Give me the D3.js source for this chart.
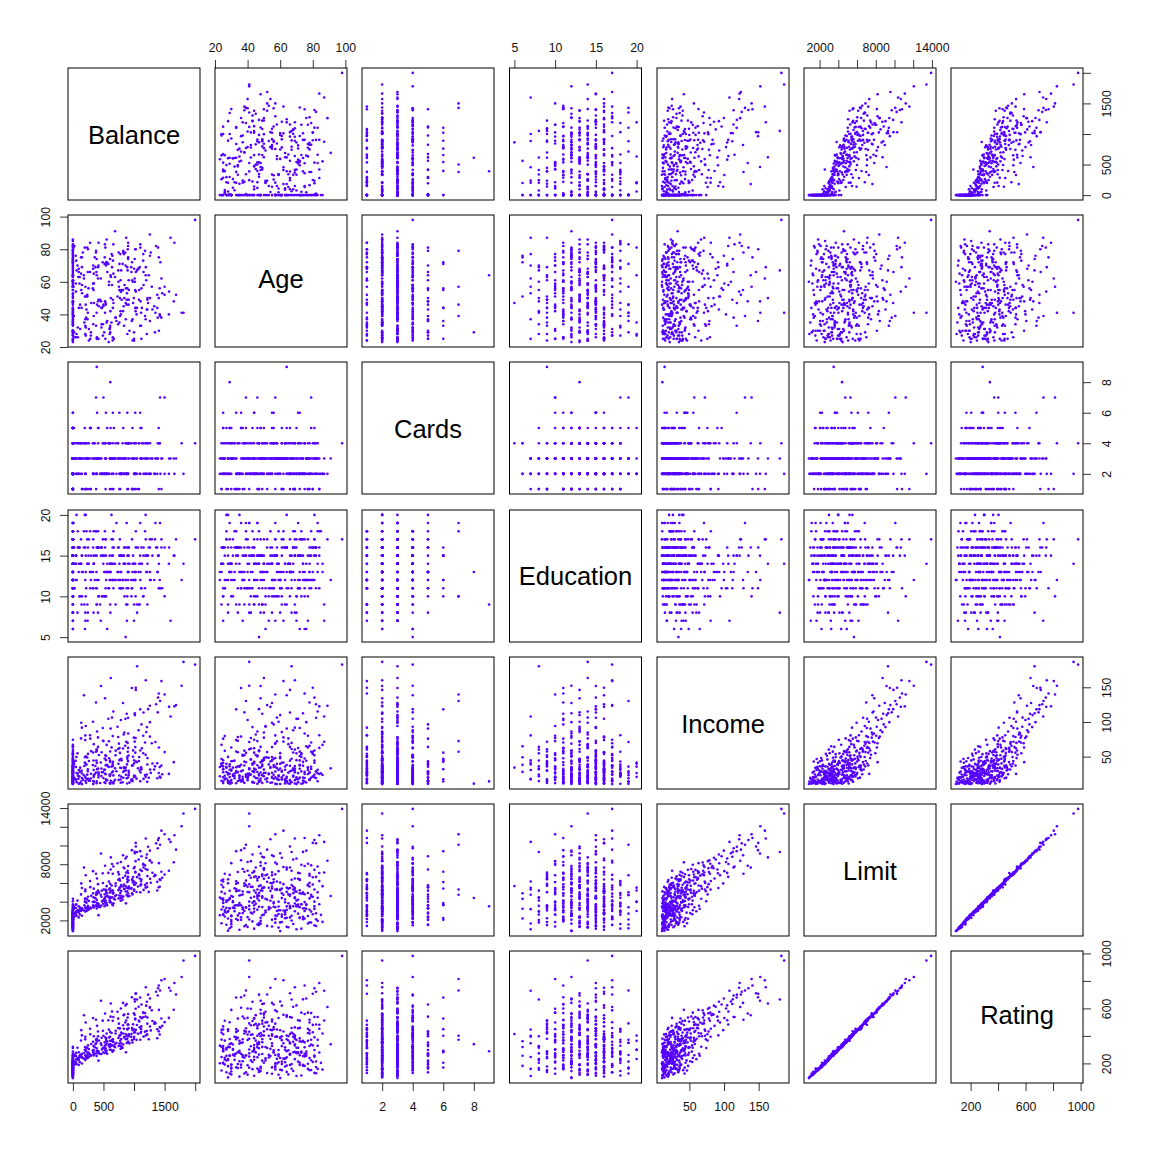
<!DOCTYPE html>
<html><head><meta charset="utf-8">
<script src="https://cdn.jsdelivr.net/npm/d3@7"></script>
<style>html,body{margin:0;background:#fff}svg{display:block}</style>
</head><body><svg id="c" width="1154" height="1154"></svg>
<script>
const variableNames = ["Balance","Age","Cards","Education","Income","Limit","Rating"];

const incomeValues = [
14.891,106.025,104.593,148.924,55.882,80.18,20.996,71.408,15.125,71.061,
63.095,15.045,80.616,43.682,19.144,20.089,53.598,36.496,49.57,42.079,
17.7,37.348,20.103,64.027,10.742,14.09,42.471,32.793,186.634,26.813,
34.142,28.941,134.181,31.367,20.15,23.35,62.413,30.007,11.795,13.648,
34.95,113.659,44.158,36.929,31.861,77.38,19.531,44.646,44.522,43.479,
36.362,39.705,44.205,16.304,15.333,32.916,57.1,76.273,10.354,51.872,
35.51,21.238,30.682,14.132,32.164,12.0,113.829,11.187,27.847,49.502,
24.889,58.781,22.939,23.989,
16.1,33.0,30.5,27.4,62.6,11.8,29.6,27.6,26.4,57.2,
123.3,18.1,23.8,10.7,23.3,21.5,34.7,44.5,54.7,36.4,
30.6,18.9,57.3,84.8,41.5,12.2,52.3,28.6,18.0,93.0,
39.1,20.4,68.7,25.6,15.4,78.2,24.1,13.8,47.7,33.2,
19.2,102.9,35.7,27.7,16.8,55.4,12.6,44.9,22.3,72.1,
38.4,17.2,64.9,29.3,91.2,21.1,48.8,14.7,31.5,109.9,
25.0,51.2,18.3,36.7,75.9,13.0,42.9,26.1,60.5,11.4,
34.1,19.9,86.3,28.4,15.9,53.9,40.2,23.1,12.9,69.8,
31.0,17.6,45.3,24.8,98.8,20.7,58.3,14.4,37.9,27.1,
76.8,16.5,49.4,22.8,33.8,11.2,65.7,29.8,43.3,18.7,
52.7,25.9,13.4,39.8,83.4,21.9,60.1,35.0,16.0,47.0,
118.5,28.9,12.4,56.4,32.5,19.5,74.3,24.3,41.1,15.1,
37.2,66.9,26.6,10.8,50.3,22.1,90.4,35.9,17.9,44.0,
29.0,13.2,61.8,20.1,38.8,104.5,25.3,48.1,16.7,31.7,
79.6,14.9,42.4,23.6,55.0,19.0,34.6,127.4,11.9,27.3,
46.6,63.3,21.4,38.0,15.6,71.7,30.1,17.3,94.2,26.9,
40.7,13.6,54.2,23.0,36.1,19.7,59.0,28.2,12.1,88.0,
33.5,18.5,47.3,25.5,68.0,14.2,31.3,80.9,21.6,39.5,
16.4,52.0,27.9,112.6,43.7,11.0,24.5,35.4,62.0,20.3,
17.0,49.9,30.9,73.8,13.9,41.9,22.6,57.9,28.0,36.0,
96.5,15.3,45.9,26.2,19.3,33.9,10.4,67.1,38.6,24.0,
54.9,16.2,29.5,82.0,12.7,43.0,21.0,35.3,60.9,18.2,
48.3,26.5,72.8,13.3,37.5,100.4,23.4,31.9,17.4,51.0,
40.0,14.5,64.0,28.5,20.5,77.7,34.3,11.5,44.3,25.7,
57.0,16.6,32.3,91.8,22.4,47.9,13.1,38.3,69.2,27.5,
182.7,152.3,180.4,163.3,160.2,158.9,149.3,135.1,130.2,124.3,
121.8,107.8,115.1,125.5,141.0,146.2,151.9,138.5,128.0,139.7,
122.5,25.1,42.0,40.4,21.2,34.9,56.5,14.3,11.0,72.4,
118.2,55.7,45.0,33.1,
10.6,14.0,12.3,19.6,24.2,16.9,29.9,11.6,37.0,21.8,46.0,31.1,
15.8,17.1,24.6,12.5,28.7,33.4,39.2,46.9,51.6,58.6,
63.7,70.4,78.9,85.4,92.6,99.7,106.3,111.9,32.7,26.3,
41.3,18.8,23.2,35.6,20.8,27.0,49.0,38.1,17.5,44.8
];

const limitValues = [
3606,6645,7075,9504,4897,8047,3388,7114,3300,6819,
8117,1311,5308,6922,3291,2525,3714,4378,6384,6626,
2860,6378,2631,5179,1757,4323,3625,4534,13414,5611,
5666,2733,7838,1829,2646,2558,6457,6481,3899,3461,
3327,7659,4763,6257,6375,7569,5043,4431,2252,4569,
5183,3969,5441,5466,1499,1786,4742,4779,3480,5294,
5198,3089,1671,2998,2937,4160,9704,5099,5619,6819,
3954,7402,4923,4523,
5390,3180,3501,3449,7056,1300,2529,2531,5533,3411,
8376,3461,3821,1568,5443,5829,5835,3500,4116,3613,
4000,3299,5908,7576,4742,3015,4964,1402,2415,8101,
3274,1300,6921,3180,2120,7167,4410,1160,5308,5620,
3780,8240,2230,4115,3145,6250,2080,5070,2760,6150,
3890,4900,3240,5360,7040,1620,4220,2940,6710,9170,
3730,2780,2280,4620,5550,3510,6000,1950,5020,2640,
3360,4870,6480,2150,3620,4530,5810,3050,1890,7310,
4290,1060,5520,2470,5950,3390,4880,5010,3120,5740,
8330,2690,3720,4660,1540,3830,6780,3260,2040,6120,
7490,2590,1720,5230,7810,3580,2980,4450,2350,6090,
9860,3440,4100,5170,2310,4560,4050,5960,1830,3170,
7200,5660,2860,1120,4340,3950,7430,2610,5260,3640,
4720,2490,6560,1480,5480,8620,3310,2170,4240,3550,
6990,1950,4990,5770,3080,2750,6180,8960,3420,4480,
1690,5730,2920,3960,2210,7700,5090,3700,6830,1260,
4170,5580,2660,3490,2040,6310,6640,2400,1580,8510,
5150,3340,4790,4010,5390,2060,6440,6200,2550,3010,
4350,5690,3150,9320,4080,2320,6550,1770,7280,3600,
2900,6040,4410,5120,1410,3370,5300,4620,2200,6860,
8850,3930,5600,2720,1000,4920,2500,4310,6730,3230,
7950,2440,5410,7650,3710,1370,4640,2850,6350,5030,
3430,6020,6000,2270,4540,7260,1840,3860,3060,5220,
7090,4760,3570,2110,5170,5870,1650,3270,4460,2980,
6610,1230,5860,5460,3100,7400,4200,2340,8190,4020,
13913,12066,9310,8732,10748,11589,10278,10578,10088,9560,
10673,10384,7760,10230,10800,9890,9150,7640,6982,11200,
11100,7300,8200,5200,5600,6400,6900,3500,4400,5300,
9400,7200,5400,4600,
855,905,1120,1340,1500,1790,1980,2150,2380,2620,2830,3020,
3860,4380,4120,4600,4860,5350,5050,5780,6260,5970,
7130,7880,8430,8700,9040,9450,8030,8800,3810,3000,
4000,4700,2100,3400,5500,3620,4300,4900,3200,6150
];

const ratingValues = [
283,483,514,681,357,569,259,512,266,491,
589,138,394,511,269,200,286,339,448,479,
235,458,213,398,156,326,289,333,949,411,
413,210,563,162,199,220,455,462,300,264,
253,538,351,445,469,564,376,320,205,354,
376,301,394,413,138,154,372,367,281,390,
364,254,160,251,223,320,694,380,418,505,
318,538,355,338,
393,250,281,288,481,119,192,195,433,259,
610,279,281,162,407,427,452,257,314,278,
298,255,429,555,347,242,366,128,192,576,
254,118,489,243,183,526,325,126,388,416,
280,599,178,312,239,456,171,371,216,446,
287,369,256,389,511,145,312,224,488,650,
279,216,175,345,412,276,444,160,379,209,
262,359,473,171,270,331,425,235,158,533,
318,108,403,198,442,257,366,372,244,421,
597,208,278,344,136,296,497,248,169,448,
541,204,150,385,559,268,231,329,187,449,
700,263,306,387,189,338,312,436,151,246,
527,417,222,112,318,299,540,207,395,272,
350,195,478,131,401,622,259,182,317,273,
510,165,365,431,239,214,450,640,268,331,
148,421,227,295,180,553,376,281,497,120,
309,411,210,266,166,459,484,196,141,612,
378,255,353,301,397,170,468,452,201,233,
327,417,245,666,304,188,473,152,529,274,
228,441,328,375,130,259,393,341,182,499,
628,299,408,213,104,364,199,321,489,249,
569,190,398,551,286,127,346,221,458,371,
262,440,437,184,335,530,155,291,237,382,
508,352,270,174,377,432,144,254,327,226,
480,117,430,404,241,534,313,191,586,302,
982,828,665,636,754,805,707,747,730,701,
750,728,538,721,767,710,656,550,518,814,
785,531,590,383,410,465,500,288,340,401,
679,526,401,339,
93,98,110,125,135,150,161,172,189,205,222,236,
292,326,310,346,358,394,373,424,455,438,
519,566,605,620,648,672,578,632,284,232,
297,348,169,261,403,272,319,361,247,447
];

const cardsValues = [
2,3,4,3,2,4,2,2,5,3,
4,3,1,1,2,3,3,3,1,2,
4,1,3,5,3,5,6,2,2,4,
4,5,2,4,2,3,2,2,4,4,
3,2,2,1,3,3,2,2,6,4,
3,2,1,4,2,2,7,4,2,4,
2,3,2,4,2,4,4,4,2,4,
4,2,1,4,
4,2,3,3,1,3,1,1,5,3,
2,3,4,5,4,4,3,3,2,4,
2,4,3,2,3,1,3,2,3,4,
5,2,3,3,2,4,4,3,2,1,
2,3,3,4,1,2,5,3,2,4,
3,1,2,2,2,3,4,3,2,3,
3,1,3,2,5,2,4,2,3,4,
3,2,2,4,5,3,1,3,2,4,
2,3,2,1,3,4,3,3,2,5,
2,3,4,1,2,2,3,3,5,2,
4,2,4,3,2,3,1,2,3,6,
4,3,2,2,4,5,3,3,1,4,
3,2,3,2,1,3,5,2,4,3,
2,3,3,4,2,2,5,3,3,1,
4,2,3,2,3,4,3,3,2,1,
3,3,2,4,3,2,3,6,3,2,
3,4,1,3,2,2,3,5,3,4,
2,1,2,3,3,6,4,1,3,2,
3,4,2,2,3,3,3,2,4,5,
2,3,4,2,1,3,2,3,4,2,
5,3,2,3,2,1,4,2,3,3,
3,2,4,2,3,3,2,5,3,3,
2,2,4,3,3,2,2,6,3,2,
3,5,1,2,4,3,3,2,3,4,
2,3,3,1,2,3,4,5,3,2,
4,4,3,3,2,1,1,3,7,3,
3,3,3,3,1,2,2,4,2,7,
2,2,3,3,4,4,2,9,8,7,
6,6,6,3,
3,2,3,2,5,4,2,1,3,3,2,4,
2,3,1,3,2,3,3,2,4,3,
2,3,2,4,2,3,3,2,4,2,
5,2,3,2,3,1,4,2,3,2
];

const ageValues = [
34,82,71,36,68,77,37,87,66,41,
30,64,57,49,75,57,73,69,28,44,
63,72,61,48,57,25,44,44,41,55,
47,43,48,30,25,49,71,69,25,47,
54,66,66,24,25,50,64,49,72,49,
49,27,32,66,47,60,79,65,70,81,
35,59,77,75,79,28,38,69,78,55,
75,81,47,31,
69,41,68,25,84,30,30,34,50,72,
89,56,56,46,49,80,77,81,70,35,
59,32,33,50,62,38,45,82,26,51,
29,40,57,53,74,34,42,29,60,68,
45,40,63,27,78,39,55,70,35,58,
43,61,76,33,72,68,52,28,45,60,
84,37,48,66,25,71,54,83,41,63,
31,74,46,57,36,80,24,62,43,67,
29,70,50,77,55,39,26,83,64,48,
42,59,73,35,27,65,78,44,30,52,
37,85,47,60,75,32,69,23,40,56,
47,66,54,34,72,79,44,28,61,24,
38,86,51,73,46,31,64,25,58,76,
36,67,42,81,53,70,29,57,63,41,
26,48,74,39,60,82,33,55,49,69,
24,77,44,56,28,62,37,71,51,65,
25,43,80,59,34,72,47,61,30,68,
54,27,75,41,65,36,50,84,23,58,
78,38,46,74,31,66,53,79,44,70,
26,60,83,33,52,39,68,47,75,29,
56,63,42,71,35,77,58,24,49,81,
73,30,61,45,76,38,55,27,67,40,
53,78,34,64,46,59,86,25,51,72,
43,37,66,82,29,62,48,74,55,32,
80,59,41,69,26,50,71,36,57,44,
98,41,67,50,69,62,80,81,39,52,
54,87,83,82,75,66,48,64,78,57,
84,40,48,44,40,56,52,64,29,46,
33,44,55,91,
60,28,44,55,39,78,67,33,74,50,42,63,
35,61,47,30,73,58,24,67,46,38,
55,79,36,61,43,76,58,49,69,28,
81,46,41,57,64,33,51,72,37,25
];

const educationValues = [
11,15,11,11,16,10,12,9,13,19,
14,16,7,9,13,15,17,15,9,9,
16,17,10,8,15,16,12,16,14,16,
5,16,13,10,14,12,11,9,10,14,
14,15,13,14,16,12,16,15,15,13,
15,20,12,10,9,8,18,14,17,17,
20,10,7,17,15,14,13,16,15,14,
12,12,18,15,
12,15,16,16,11,14,12,15,15,11,
17,15,12,19,13,12,15,16,8,9,
14,13,9,14,7,11,10,16,11,13,
14,13,12,10,17,16,8,19,11,16,
14,11,9,17,13,15,12,10,16,13,
18,11,6,16,15,18,14,8,12,13,
16,12,17,14,11,15,18,13,9,16,
10,14,12,15,13,16,9,18,11,15,
13,7,17,12,14,15,11,19,16,13,
10,12,15,14,17,11,14,9,16,13,
15,18,14,12,12,16,8,13,17,10,
15,14,11,16,13,12,17,15,9,14,
16,13,11,18,15,12,13,10,16,14,
19,12,11,15,7,16,13,17,14,8,
12,15,13,18,11,16,14,12,9,15,
13,17,14,11,16,13,12,15,10,14,
16,13,12,18,8,11,15,17,14,13,
15,12,10,16,14,11,13,18,12,15,
16,9,14,12,17,13,11,16,14,10,
15,12,18,16,13,11,14,15,6,17,
11,14,13,19,16,12,15,14,9,17,
10,13,16,14,12,15,11,18,13,16,
14,12,15,11,17,13,14,16,9,12,
15,13,17,11,14,16,12,15,8,18,
13,14,11,15,16,14,12,13,17,10,
17,12,8,14,17,17,16,15,19,17,
16,7,14,16,11,13,15,16,11,10,
15,14,15,16,11,12,16,9,13,10,
15,12,15,12,
12,12,15,10,17,13,11,16,14,8,15,12,
13,15,11,14,17,10,16,13,15,12,
14,11,16,13,15,12,14,11,18,20,
20,19,19,19,20,18,6,6,7,7
];

const balanceValues = [
333,903,580,964,331,1151,203,872,279,1350,
1407,0,204,1081,148,0,0,368,891,1048,
89,968,0,411,0,671,654,467,1809,915,
863,0,526,0,0,419,762,1093,531,344,
50,1155,385,976,1120,997,1241,797,0,902,
654,211,607,957,0,0,379,133,333,531,
631,108,0,133,0,602,1388,889,822,1084,
357,1103,663,601,
954,0,96,419,904,0,0,0,1404,0,
1259,255,868,0,912,1018,835,8,75,187,
340,211,610,841,456,217,426,0,29,730,
19,0,753,150,0,740,614,0,592,1064,
498,785,0,491,163,770,0,542,0,589,
222,968,0,837,488,0,235,203,1330,1014,
420,0,0,563,284,518,1030,0,388,112,
120,903,395,0,561,247,1000,180,0,895,
512,0,768,0,137,341,392,1102,0,1106,
1026,48,56,760,0,663,856,142,0,1380,
1190,0,0,745,904,466,0,586,0,890,
1230,244,782,470,0,824,0,1210,0,261,
1447,552,0,0,210,604,617,0,1156,46,
712,62,820,0,884,860,295,0,689,245,
652,0,608,1180,0,24,1115,820,445,640,
0,633,97,326,0,1010,865,540,210,0,
391,1216,0,342,0,1432,985,0,0,1075,
790,294,521,526,342,0,1262,281,0,0,
748,698,118,1011,262,95,1461,0,1128,418,
50,982,524,202,0,16,1002,300,0,1342,
1122,620,779,0,0,775,148,0,1218,235,
1150,0,912,830,646,0,792,0,742,1041,
0,1274,492,0,538,330,0,396,236,544,
1301,975,0,0,1000,410,0,389,338,80,
898,0,1116,148,82,1220,813,0,1290,476,
1999,1779,1050,620,1192,1448,1028,1393,1426,1687,
1573,1597,661,1361,1405,1030,460,180,378,1500,
1660,1570,1650,1380,1420,1420,1500,390,612,500,
1100,1020,760,690,
0,0,0,0,0,0,0,0,0,0,0,0,
550,780,535,925,655,845,650,790,910,700,
1020,1180,1260,1200,1210,1260,640,880,412,60,
195,880,0,10,1190,380,198,560,240,1000
];

const balanceTicks = [0,500,1000,1500,2000], balanceLabels = ["0","500","","1500",""];
const ageTicks = [20,40,60,80,100], ageLabels = ["20","40","60","80","100"];
const cardsTicks = [2,4,6,8], cardsLabels = ["2","4","6","8"];
const educationTicks = [5,10,15,20], educationLabels = ["5","10","15","20"];
const incomeTicks = [50,100,150], incomeLabels = ["50","100","150"];
const limitTicks = [2000,4000,6000,8000,10000,12000,14000], limitLabels = ["2000","","","8000","","","14000"];
const ratingTicks = [200,400,600,800,1000], ratingLabels = ["200","","600","","1000"];

const columns = [balanceValues,ageValues,cardsValues,educationValues,incomeValues,limitValues,ratingValues];
const tickSets = [balanceTicks,ageTicks,cardsTicks,educationTicks,incomeTicks,limitTicks,ratingTicks];
const labelSets = [balanceLabels,ageLabels,cardsLabels,educationLabels,incomeLabels,limitLabels,ratingLabels];

const panelLeft = [68,215,362,509.5,657,804,951];
const panelTop = [68,215,362,510,657,804,951];
const labelNudge = [1,-1.5,1,0,1,1,-1.5];
const size = 132, dotColor = "#5500ff";

const extents = columns.map(v => {
  const [a,b] = d3.extent(v), pad = (b-a)*0.04;
  return [a-pad,b+pad];
});

const svg = d3.select("#c");
svg.append("rect").attr("width",1154).attr("height",1154).attr("fill","#fff");

const count = d3.min(columns, c => c.length);
const indices = d3.range(count);

function styleAxis(g){
  g.select(".domain").remove();
  g.selectAll(".tick line").attr("stroke","#000").attr("stroke-width",0.8);
  g.selectAll(".tick text").attr("fill","#111").style("font","12.3px 'Liberation Sans',Arial,sans-serif");
}

for (let r=0;r<7;r++){
  for (let c=0;c<7;c++){
    const x0 = panelLeft[c], y0 = panelTop[r];
    const sx = d3.scaleLinear().domain(extents[c]).range([x0,x0+size]);
    const sy = d3.scaleLinear().domain(extents[r]).range([y0+size,y0]);
    const g = svg.append("g");
    if (r===c){
      g.append("text").attr("x",x0+size/2).attr("y",y0+size/2+labelNudge[r]).attr("dy","0.35em")
        .attr("text-anchor","middle").attr("fill","#000")
        .style("font","25.5px 'Liberation Sans',Arial,sans-serif").text(variableNames[r]);
    } else {
      g.selectAll("circle").data(indices).join("circle")
        .attr("cx",i=>sx(columns[c][i])).attr("cy",i=>sy(columns[r][i]))
        .attr("r",1.3).attr("fill",dotColor);
    }
    g.append("rect").attr("x",x0).attr("y",y0).attr("width",size).attr("height",size)
      .attr("fill","none").attr("stroke","#000").attr("stroke-width",1);

    const fmtX = d => labelSets[c][tickSets[c].indexOf(d)];
    const fmtY = d => labelSets[r][tickSets[r].indexOf(d)];
    if (r===0 && c%2===1){
      svg.append("g").attr("transform",`translate(0,${y0})`)
        .call(d3.axisTop(sx).tickValues(tickSets[c]).tickFormat(fmtX).tickSize(8).tickSizeOuter(0).tickPadding(8))
        .call(styleAxis);
    }
    if (r===6 && c%2===0){
      svg.append("g").attr("transform",`translate(0,${y0+size})`)
        .call(d3.axisBottom(sx).tickValues(tickSets[c]).tickFormat(fmtX).tickSize(8).tickSizeOuter(0).tickPadding(11))
        .call(styleAxis);
    }
    if (c===0 && r%2===1){
      svg.append("g").attr("transform",`translate(${x0},0)`)
        .call(d3.axisLeft(sy).tickValues(tickSets[r]).tickFormat(fmtY).tickSize(8).tickSizeOuter(0))
        .call(styleAxis)
        .call(a=>a.selectAll(".tick text").attr("x",-22).attr("dy",0)
          .attr("text-anchor","middle").attr("dominant-baseline","central").attr("transform","rotate(-90 -22 0)"));
    }
    if (c===6 && r%2===0){
      svg.append("g").attr("transform",`translate(${x0+size},0)`)
        .call(d3.axisRight(sy).tickValues(tickSets[r]).tickFormat(fmtY).tickSize(8).tickSizeOuter(0))
        .call(styleAxis)
        .call(a=>a.selectAll(".tick text").attr("x",24).attr("dy",0)
          .attr("text-anchor","middle").attr("dominant-baseline","central").attr("transform","rotate(-90 24 0)"));
    }
  }
}
</script></body></html>
